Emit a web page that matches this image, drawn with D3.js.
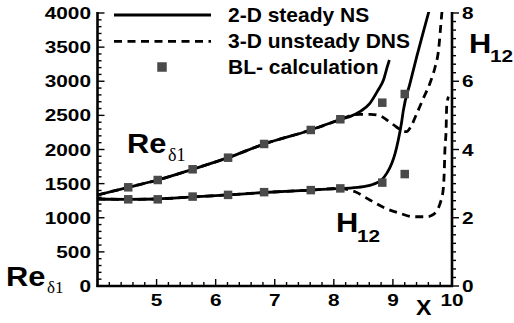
<!DOCTYPE html>
<html>
<head>
<meta charset="utf-8">
<script src="https://cdn.jsdelivr.net/npm/d3@7"></script>
<style>
  html, body { margin: 0; padding: 0; background: #fff; }
  svg { display: block; }
</style>
</head>
<body>
<svg id="chart" width="514" height="323"></svg>
<script>
// Streamwise position of the boundary-layer (BL) calculation stations
const blX   = [4.52, 5.02, 5.61, 6.21, 6.82, 7.61, 8.11, 8.82, 9.20];
const blRe  = [1446, 1553, 1710, 1880, 2081, 2286, 2443, 2686, 2813];
const blH12 = [2.54, 2.54, 2.62, 2.67, 2.75, 2.81, 2.86, 3.03, 3.28];

// 2-D steady Navier-Stokes: displacement-thickness Reynolds number
const nsReX = [4.0, 4.52, 5.02, 5.61, 6.21, 6.82, 7.61, 8.11, 8.27, 8.44, 8.61, 8.75, 8.84, 8.905, 8.94];
const nsRe  = [1333, 1446, 1553, 1710, 1880, 2081, 2286, 2440, 2481, 2554, 2677, 2872, 3018, 3213, 3311];

// 3-D unsteady DNS: displacement-thickness Reynolds number
const dnsReX = [4.0, 4.52, 5.02, 5.61, 6.21, 6.82, 7.61, 8.11, 8.27, 8.44, 8.62, 8.78, 8.92, 9.06, 9.16, 9.23, 9.30, 9.40, 9.515, 9.628, 9.713, 9.77, 9.826, 9.85];
const dnsRe  = [1333, 1446, 1553, 1710, 1880, 2081, 2286, 2440, 2495, 2515, 2515, 2495, 2420, 2330, 2275, 2262, 2330, 2520, 2750, 2975, 3205, 3440, 3980, 4200];

// 2-D steady Navier-Stokes: shape factor H12
const nsHX = [4.0, 4.52, 5.02, 5.61, 6.21, 6.82, 7.61, 8.11, 8.27, 8.50, 8.67, 8.81, 8.895, 8.98, 9.036, 9.091, 9.149, 9.176, 9.289, 9.403, 9.515, 9.60, 9.65];
const nsH  = [2.55, 2.54, 2.55, 2.61, 2.67, 2.74, 2.81, 2.86, 2.87, 2.91, 2.98, 3.11, 3.30, 3.59, 3.88, 4.28, 4.82, 5.14, 5.94, 6.72, 7.45, 7.99, 8.3];

// 3-D unsteady DNS: shape factor H12
const dnsHX = [4.0, 4.52, 5.02, 5.61, 6.21, 6.82, 7.61, 8.11, 8.20, 8.36, 8.61, 8.87, 9.12, 9.35, 9.57, 9.66, 9.74, 9.80, 9.85, 9.87, 9.88, 9.90, 9.91, 9.94];
const dnsH  = [2.55, 2.54, 2.55, 2.61, 2.67, 2.74, 2.81, 2.86, 2.84, 2.76, 2.52, 2.28, 2.13, 2.03, 2.03, 2.07, 2.20, 2.43, 2.81, 3.40, 3.99, 4.57, 5.25, 5.55];

// Axis ticks
const xTickLabels  = [5, 6, 7, 8, 9, 10];
const reTickLabels = [0, 500, 1000, 1500, 2000, 2500, 3000, 3500, 4000];
const hTickLabels  = [0, 2, 4, 6, 8];

const legendLabels = ["2-D steady NS", "3-D unsteady DNS", "BL- calculation"];

const svg = d3.select("#chart");
const pLeft = 97.5, pRight = 452, pTop = 13, pBottom = 286;

const x  = d3.scaleLinear().domain([4, 10]).range([pLeft, pRight]);
const yR = d3.scaleLinear().domain([0, 4000]).range([pBottom, pTop]);
const yH = d3.scaleLinear().domain([0, 8]).range([pBottom, pTop]);

const SANS = "'Liberation Sans', Arial, Helvetica, sans-serif";
const SERIF = "'Liberation Serif', 'Times New Roman', serif";

function label(g, px, py, str, size, opts = {}) {
  const sx = opts.sx || 1;
  return g.append("text")
    .attr("transform", `translate(${px},${py}) scale(${sx},1)`)
    .attr("text-anchor", opts.anchor || "start")
    .attr("font-family", opts.family || SANS)
    .attr("font-weight", opts.weight || "bold")
    .attr("font-size", size)
    .attr("fill", "#000")
    .text(str);
}

// Clip region for the curves
svg.append("defs").append("clipPath").attr("id", "plot-clip")
  .append("rect").attr("x", pLeft).attr("y", pTop - 1)
  .attr("width", pRight - pLeft).attr("height", pBottom - pTop + 1);

const plot = svg.append("g").attr("clip-path", "url(#plot-clip)");

const dash = "8,5.5";
function curve(xs, ys, yScale, dashed) {
  const pts = xs.map((v, i) => [v, ys[i]]);
  plot.append("path")
    .datum(pts)
    .attr("fill", "none")
    .attr("stroke", "#000")
    .attr("stroke-width", 2.8)
    .attr("stroke-dasharray", dashed ? dash : null)
    .attr("d", d3.line().x(d => x(d[0])).y(d => yScale(d[1])).curve(d3.curveMonotoneX));
}

curve(dnsReX, dnsRe, yR, true);
curve(dnsHX, dnsH, yH, true);
curve(nsReX, nsRe, yR, false);
curve(nsHX, nsH, yH, false);

// BL calculation markers
const mk = 8.5, mkColor = "#4a4a4a";
plot.selectAll("rect.re").data(blX).enter().append("rect")
  .attr("x", (d) => x(d) - mk / 2).attr("y", (d, i) => yR(blRe[i]) - mk / 2)
  .attr("width", mk).attr("height", mk).attr("fill", mkColor);
plot.selectAll("rect.h").data(blX).enter().append("rect")
  .attr("x", (d) => x(d) - mk / 2).attr("y", (d, i) => yH(blH12[i]) - mk / 2)
  .attr("width", mk).attr("height", mk).attr("fill", mkColor);

// Axes
const ax = svg.append("g").attr("stroke", "#000");
ax.append("line").attr("x1", pLeft).attr("x2", pLeft).attr("y1", pTop - 1).attr("y2", pBottom + 1).attr("stroke-width", 2.6);
ax.append("line").attr("x1", pRight).attr("x2", pRight).attr("y1", pTop - 1).attr("y2", pBottom + 1).attr("stroke-width", 2.6);
ax.append("line").attr("x1", pLeft - 1).attr("x2", pRight + 1).attr("y1", pBottom).attr("y2", pBottom).attr("stroke-width", 2.6);

// bottom ticks (inward)
d3.range(4, 10.0001, 0.2).forEach(v => {
  const major = Math.abs(v - Math.round(v)) < 1e-6;
  ax.append("line").attr("x1", x(v)).attr("x2", x(v))
    .attr("y1", pBottom).attr("y2", pBottom - (major ? 7 : 4)).attr("stroke-width", 1.4);
});
// left ticks (inward)
d3.range(0, 4000.1, 100).forEach(v => {
  const major = v % 500 === 0;
  ax.append("line").attr("x1", pLeft).attr("x2", pLeft + (major ? 7 : 4))
    .attr("y1", yR(v)).attr("y2", yR(v)).attr("stroke-width", 1.4);
});
// right ticks (outward)
d3.range(0, 8.001, 0.25).forEach(v => {
  const major = Math.abs(v / 2 - Math.round(v / 2)) < 1e-6;
  ax.append("line").attr("x1", pRight).attr("x2", pRight + (major ? 7 : 4))
    .attr("y1", yH(v)).attr("y2", yH(v)).attr("stroke-width", 1.4);
});

const txt = svg.append("g");
const tickSize = 16, tickSx = 1.3;
reTickLabels.forEach(v => label(txt, 91, yR(v) + 6, String(v), tickSize, { anchor: "end", sx: tickSx }));
hTickLabels.forEach(v => label(txt, 462, yH(v) + 6, String(v), tickSize, { sx: tickSx }));
xTickLabels.forEach(v => label(txt, x(v), 306, String(v), tickSize, { anchor: "middle", sx: tickSx }));

// Axis titles
label(txt, 416, 315, "X", 22, { sx: 1.05 });
label(txt, 6, 286, "Re", 28, { sx: 1.1 });
label(txt, 47, 293, "δ1", 17, { family: SERIF, weight: "normal" });
label(txt, 469, 53, "H", 28, { sx: 1.1 });
label(txt, 490, 62, "12", 16, { sx: 1.3 });

// Curve annotations inside the plot
label(txt, 127, 153, "Re", 28, { sx: 1.1 });
label(txt, 168, 161, "δ1", 18, { family: SERIF, weight: "normal" });
label(txt, 336, 232, "H", 28, { sx: 1.1 });
label(txt, 357, 242, "12", 16, { sx: 1.3 });

// Legend
const lg = svg.append("g");
const rowY = [15, 41.3, 67];
lg.append("line").attr("x1", 114).attr("x2", 211).attr("y1", rowY[0]).attr("y2", rowY[0])
  .attr("stroke", "#000").attr("stroke-width", 2.8);
lg.append("line").attr("x1", 114).attr("x2", 211).attr("y1", rowY[1]).attr("y2", rowY[1])
  .attr("stroke", "#000").attr("stroke-width", 2.8).attr("stroke-dasharray", dash);
lg.append("rect").attr("x", 162 - 4.75).attr("y", rowY[2] - 4.75).attr("width", 9.5).attr("height", 9.5).attr("fill", mkColor);
legendLabels.forEach((s, i) => label(lg, 228, rowY[i] + 6.5, s, 20, { sx: 1.05 }));
</script>
</body>
</html>
